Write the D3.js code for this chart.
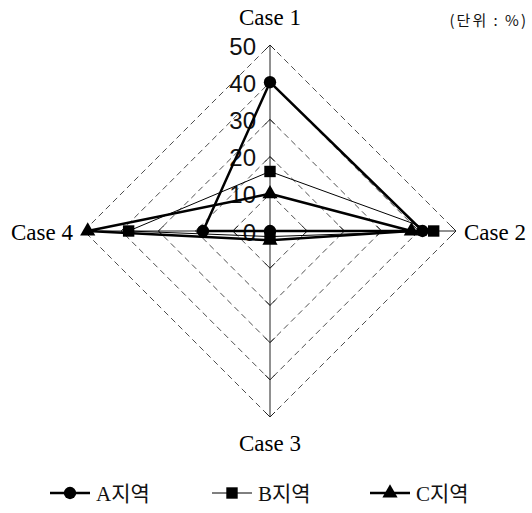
<!DOCTYPE html>
<html><head><meta charset="utf-8">
<script src="https://cdn.jsdelivr.net/npm/d3@7"></script>
<style>body{margin:0;background:#fff}svg{display:block}</style>
</head><body>
<svg id="c" width="532" height="513"></svg>
<script>
const categories = ["Case 1", "Case 2", "Case 3", "Case 4"];
const seriesNames = ["A지역", "B지역", "C지역"];
const valuesA = [40, 41, 0, 18];
const valuesB = [16, 44, 1.5, 38];
const valuesC = [10, 38, 2.5, 49];
const ticks = [0, 10, 20, 30, 40, 50];
const unitLabel = "(단위 : %)";

const svg = d3.select("#c");
const cx = 270, cy = 231, R = 186;
const r = d3.scaleLinear().domain([0, 50]).range([0, R]);
const ang = d3.scaleLinear().domain([0, categories.length]).range([0, 2 * Math.PI]);
const pt = (i, v) => [cx + r(v) * Math.sin(ang(i)), cy - r(v) * Math.cos(ang(i))];
const serif = "'Liberation Serif','Times New Roman',serif";
const sans = "'Liberation Sans',Arial,sans-serif";

const g = svg.append("g");
// dashed grid diamonds
ticks.filter(t => t > 0).forEach(t => {
  g.append("path")
    .attr("d", d3.line()(categories.map((c, i) => pt(i, t))) + "Z")
    .attr("fill", "none").attr("stroke", "#222").attr("stroke-width", 0.8)
    .attr("stroke-dasharray", "6,4");
});
// axes with chevron ticks
categories.forEach((c, i) => {
  const [x2, y2] = pt(i, 50);
  g.append("line").attr("x1", cx).attr("y1", cy).attr("x2", x2).attr("y2", y2)
    .attr("stroke", "#222").attr("stroke-width", 1);
  const a = ang(i);
  const ux = Math.sin(a), uy = -Math.cos(a), px = -uy, py = ux;
  ticks.filter(t => t > 0).forEach(t => {
    const [tx, ty] = pt(i, t);
    const s = 5;
    g.append("path")
      .attr("d", `M${tx - ux * s + px * s},${ty - uy * s + py * s}L${tx},${ty}L${tx - ux * s - px * s},${ty - uy * s - py * s}`)
      .attr("fill", "none").attr("stroke", "#222").attr("stroke-width", 1);
  });
});
// tick labels
ticks.forEach(t => {
  g.append("text").attr("x", cx - 14).attr("y", pt(0, t)[1] + 1)
    .attr("text-anchor", "end").attr("dominant-baseline", "central")
    .attr("font-family", sans).attr("font-size", 24).attr("fill", "#111").text(t);
});
// category labels
const labelPos = [
  {x: cx, y: 17, anchor: "middle"},
  {x: 464, y: cy + 1, anchor: "start"},
  {x: cx, y: 443, anchor: "middle"},
  {x: 73, y: cy + 1, anchor: "end"}
];
categories.forEach((c, i) => {
  g.append("text").attr("x", labelPos[i].x).attr("y", labelPos[i].y)
    .attr("text-anchor", labelPos[i].anchor).attr("dominant-baseline", "central")
    .attr("font-family", serif).attr("font-size", 23).attr("fill", "#000").text(c);
});
svg.append("text").attr("x", 528).attr("y", 19).attr("text-anchor", "end")
  .attr("dominant-baseline", "central").attr("font-family", "'Noto Sans CJK KR',sans-serif")
  .attr("font-size", 15).attr("letter-spacing", 2).attr("fill", "#111").text(unitLabel);

// series
const series = [
  {name: seriesNames[0], values: valuesA, width: 2.5, marker: d3.symbolCircle, size: 120},
  {name: seriesNames[1], values: valuesB, width: 1, marker: d3.symbolSquare, size: 130},
  {name: seriesNames[2], values: valuesC, width: 2.5, marker: d3.symbolTriangle, size: 100}
];
const radial = d3.lineRadial().angle((d, i) => ang(i)).radius(d => r(d)).curve(d3.curveLinearClosed);
series.forEach(s => {
  g.append("path").attr("transform", `translate(${cx},${cy})`).attr("d", radial(s.values))
    .attr("fill", "none").attr("stroke", "#000").attr("stroke-width", s.width)
    .attr("stroke-linejoin", "round");
});
series.forEach(s => {
  s.values.forEach((v, i) => {
    const [x, y] = pt(i, v);
    g.append("path").attr("d", d3.symbol().type(s.marker).size(s.size)())
      .attr("transform", `translate(${x},${y})`).attr("fill", "#000");
  });
});

// legend
const lx = [50, 212, 370];
series.forEach((s, k) => {
  const lg = svg.append("g").attr("transform", `translate(${lx[k]},493)`);
  lg.append("line").attr("x1", 0).attr("x2", 40).attr("y1", 0).attr("y2", 0)
    .attr("stroke", "#000").attr("stroke-width", s.width);
  lg.append("path").attr("d", d3.symbol().type(s.marker).size(s.size)())
    .attr("transform", "translate(20,0)").attr("fill", "#000");
  lg.append("text").attr("x", 46).attr("y", 1).attr("dominant-baseline", "central")
    .attr("font-family", serif + ",'Noto Sans CJK KR'").attr("font-size", 21).attr("fill", "#111").text(s.name);
});
</script>
</body></html>
